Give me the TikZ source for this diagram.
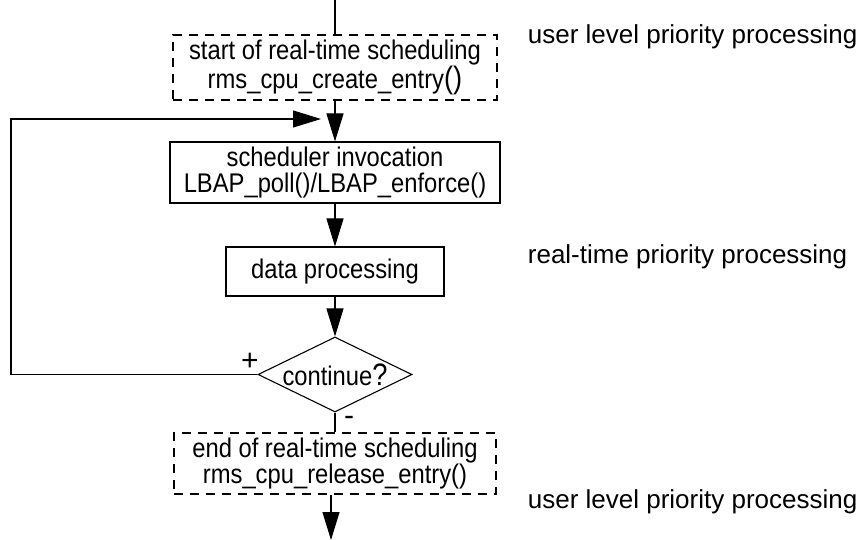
\documentclass[tikz,border=0pt]{standalone}
\usepackage{fontspec}
\setmainfont{Liberation Sans}
\newfontfamily\boxfont[FakeStretch=0.88]{Liberation Sans}
\usepackage{tikz}
\usetikzlibrary{shapes.geometric, arrows.meta}

\begin{document}
\begin{tikzpicture}[x=1pt, y=-1pt, line width=1.1pt,
        every node/.style={font=\boxfont\fontsize{27}{25.5}\selectfont},
        box/.style={draw, align=center, inner sep=0pt},
        dbox/.style={box, dash pattern=on 9pt off 7pt},
        decision/.style={draw, diamond, aspect=2.05, inner sep=0pt, minimum width=154pt, minimum height=75pt},
        flow/.style={-{Triangle[length=28pt, width=17pt]}},
        side/.style={anchor=base west, font=\rmfamily\fontsize{26}{30}\selectfont}]
            \useasboundingbox (0,0) rectangle (862,540);

            \node[dbox, minimum width=324pt, minimum height=65pt] (start) at (335,67.5)
                {start of real-time scheduling\\rms\_cpu\_create\_entry{\fontsize{31}{25}\selectfont()}};
            \node[box, minimum width=330pt, minimum height=61pt] (sched) at (335,172.5)
                {scheduler invocation\\LBAP\_poll()/LBAP\_enforce()};
            \node[box, minimum width=218pt, minimum height=49pt] (data) at (335,271.5) {data processing};
            \node[decision] (cont) at (335,374.5) {continue{\fontsize{31}{25}\selectfont ?}};
            \node[dbox, minimum width=322pt, minimum height=61pt] (stop) at (335,463.5)
                {end of real-time scheduling\\rms\_cpu\_release\_entry()};

            \coordinate (entry) at (335,0);
            \coordinate (exit) at (331,540);
            \coordinate (lcorner) at (11,119);
            \coordinate (loopend) at (321,119);

            \draw (entry) -- (start);
            \draw[flow] (start) -- (sched);
            \draw[flow] (sched) -- (data);
            \draw[flow] (data) -- (cont);
            \draw (cont) -- (stop);
            \draw[flow] (cont.west) -| (lcorner) -- (loopend);
            \draw[flow] (stop.south -| exit) -- (exit);

            \node[font=\rmfamily\fontsize{30}{30}\selectfont] (plus) at (250,362) {+};
            \node[font=\rmfamily\fontsize{30}{30}\selectfont] (minus) at (349,421) {-};

            \node[side] (ulev1) at (524,44) {user level priority processing};
            \node[side] (rtprio) at (524,263) {real-time priority processing};
            \node[side] (ulev2) at (524,508) {user level priority processing};
        \end{tikzpicture}
\end{document}
